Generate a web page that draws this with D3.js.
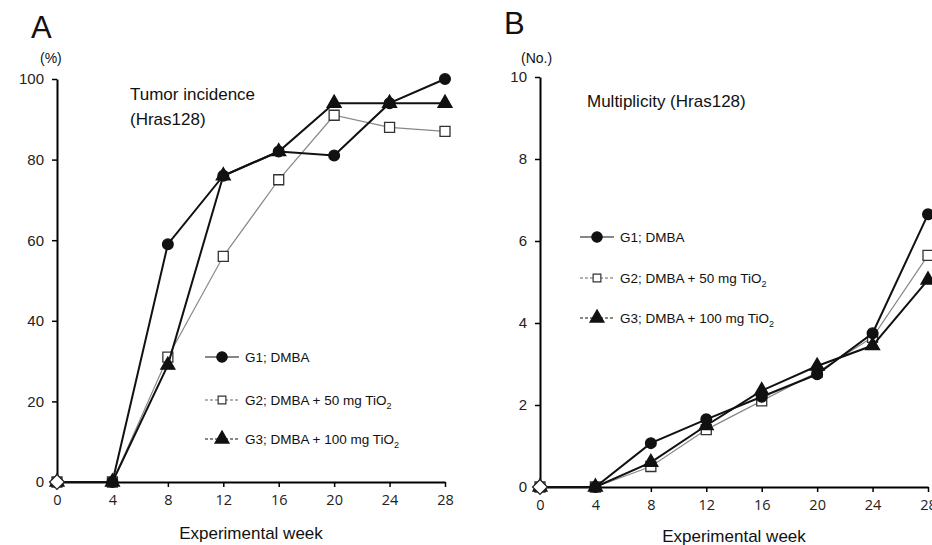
<!DOCTYPE html>
<html>
<head>
<meta charset="utf-8">
<script src="https://cdn.jsdelivr.net/npm/d3@7"></script>
<style>
  body { margin: 0; background: #fff; }
  svg { display: block; font-family: "Liberation Sans", Arial, sans-serif; }
</style>
</head>
<body>
<div id="chart"></div>
<script>
var svgWidth = 932;
var svgHeight = 545;

// data
var weeks = [0, 4, 8, 12, 16, 20, 24, 28];
var xTicks = [0, 4, 8, 12, 16, 20, 24, 28];

var incG1 = [0, 0, 59, 76, 82, 81, 94, 100];
var incG2 = [0, 0, 31, 56, 75, 91, 88, 87];
var incG3 = [0, 0, 29, 76, 82, 94, 94, 94];
var incTicks = [0, 20, 40, 60, 80, 100];

var mulG1 = [0, 0, 1.07, 1.65, 2.2, 2.75, 3.75, 6.65];
var mulG2 = [0, 0, 0.5, 1.4, 2.1, 2.8, 3.65, 5.65];
var mulG3 = [0, 0, 0.6, 1.5, 2.35, 2.95, 3.45, 5.05];
var mulTicks = [0, 2, 4, 6, 8, 10];

var groupNames = ["G1; DMBA", "G2; DMBA + 50 mg TiO", "G3; DMBA + 100 mg TiO"];

var svg = d3.select("#chart")
    .append("svg")
    .attr("width", svgWidth)
    .attr("height", svgHeight);

var styles = [
    { symbol: d3.symbolCircle, size: 90, fill: "#111", stroke: "#111", line: "#111", lw: 2 },
    { symbol: d3.symbolSquare, size: 100, fill: "#fff", stroke: "#333", line: "#888", lw: 1.2 },
    { symbol: d3.symbolTriangle, size: 85, fill: "#111", stroke: "#111", line: "#111", lw: 2 }
];

function drawPanel(opt) {
    var x = d3.scaleLinear().domain([0, 28]).range([opt.x0, opt.x1]);
    var y = d3.scaleLinear().domain([0, opt.yMax]).range([opt.y0, opt.y1]);

    var g = svg.append("g");

    // axes
    var xAxis = g.append("g")
        .attr("transform", `translate(0,${opt.y0})`)
        .call(d3.axisBottom(x).tickValues(xTicks).tickSize(5).tickSizeOuter(0).tickPadding(8));
    xAxis.select(".domain").attr("stroke-width", 2.2);
    xAxis.selectAll(".tick line").attr("stroke-width", 1.5);
    xAxis.selectAll("text")
        .attr("font-size", 14.5)
        .attr("font-family", "'Open Sans', sans-serif")
        .attr("fill", "#222");

    var yAxis = g.append("g")
        .attr("transform", `translate(${opt.x0},0)`)
        .call(d3.axisLeft(y).tickValues(opt.ticks).tickSize(5).tickSizeOuter(0).tickPadding(8));
    yAxis.select(".domain").attr("stroke-width", 2);
    yAxis.selectAll(".tick line").attr("stroke-width", 1.5);
    yAxis.selectAll("text")
        .attr("font-size", 15)
        .attr("font-family", "'Liberation Sans', Arial, sans-serif")
        .attr("fill", "#222");

    // series, drawn G2 first so black lines sit on top
    var order = [1, 2, 0];
    order.forEach(function (i) {
        var vals = opt.series[i];
        var st = styles[i];
        var pts = weeks.map((w, k) => [w, vals[k]]);
        g.append("path")
            .datum(pts)
            .attr("fill", "none")
            .attr("stroke", st.line)
            .attr("stroke-width", st.lw)
            .attr("d", d3.line().x(d => x(d[0])).y(d => y(d[1])));
        g.selectAll(".m" + i)
            .data(pts)
            .enter().append("path")
            .attr("class", "m" + i)
            .attr("transform", d => `translate(${x(d[0])},${y(d[1])})`)
            .attr("d", d3.symbol().type(st.symbol).size(st.size))
            .attr("fill", st.fill)
            .attr("stroke", st.stroke)
            .attr("stroke-width", 1.3);
    });

    // open diamond at the origin (square turned 45 degrees)
    g.append("path")
        .attr("transform", `translate(${x(0)},${y(0)}) rotate(45)`)
        .attr("d", d3.symbol().type(d3.symbolSquare).size(110))
        .attr("fill", "#fff")
        .attr("stroke", "#222")
        .attr("stroke-width", 1.3);

    // legend
    opt.legendY.forEach(function (ly, i) {
        var st = styles[i];
        g.append("line")
            .attr("x1", opt.legendX - 17).attr("x2", opt.legendX + 17)
            .attr("y1", ly).attr("y2", ly)
            .attr("stroke", i === 1 ? "#666" : "#111")
            .attr("stroke-width", 1.2)
            .attr("stroke-dasharray", i === 0 ? null : "3,2");
        g.append("path")
            .attr("transform", `translate(${opt.legendX},${ly})`)
            .attr("d", d3.symbol().type(st.symbol).size(i === 1 ? 60 : 85))
            .attr("fill", st.fill)
            .attr("stroke", st.stroke)
            .attr("stroke-width", 1.2);
        var t = g.append("text")
            .attr("x", opt.legendX + 23)
            .attr("y", ly + 5)
            .attr("font-size", 13.5)
            .attr("fill", "#111")
            .text(groupNames[i]);
        if (i > 0) {
            t.append("tspan").attr("font-size", 9).attr("dy", 4).text("2");
        }
    });

    // axis title
    g.append("text")
        .attr("x", (opt.x0 + opt.x1) / 2)
        .attr("y", opt.xTitleY)
        .attr("text-anchor", "middle")
        .attr("font-size", 17)
        .attr("fill", "#111")
        .text("Experimental week");

    // unit
    g.append("text")
        .attr("x", opt.unitX)
        .attr("y", 63)
        .attr("font-size", 14)
        .attr("fill", "#111")
        .text(opt.unit);

    // panel letter
    g.append("text")
        .attr("x", opt.letterX)
        .attr("y", opt.letterY)
        .attr("font-size", 31)
        .attr("fill", "#111")
        .text(opt.letter);

    opt.title.forEach(function (line, k) {
        g.append("text")
            .attr("x", opt.titleX)
            .attr("y", opt.titleY + k * 25)
            .attr("font-size", 17)
            .attr("fill", "#111")
            .text(line);
    });
}

drawPanel({
    x0: 57, x1: 445, y0: 482, y1: 79, yMax: 100,
    ticks: incTicks, series: [incG1, incG2, incG3],
    legendX: 222, legendY: [357, 400, 439],
    xTitleY: 539, unit: "(%)", unitX: 40,
    letter: "A", letterX: 31, letterY: 38,
    title: ["Tumor incidence", "(Hras128)"], titleX: 130, titleY: 100
});

drawPanel({
    x0: 540, x1: 928, y0: 487, y1: 77, yMax: 10,
    ticks: mulTicks, series: [mulG1, mulG2, mulG3],
    legendX: 597, legendY: [237, 278, 318],
    xTitleY: 542, unit: "(No.)", unitX: 521,
    letter: "B", letterX: 504, letterY: 34,
    title: ["Multiplicity (Hras128)"], titleX: 587, titleY: 107
});
</script>
</body>
</html>
